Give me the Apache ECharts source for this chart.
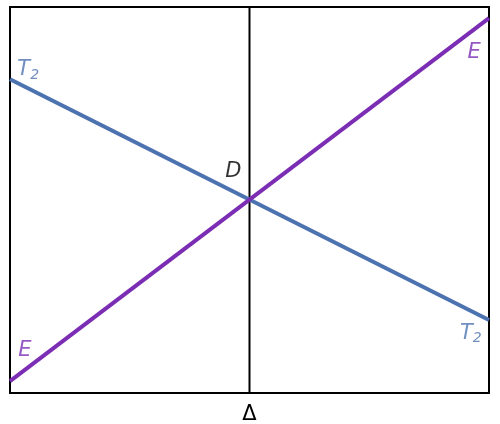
<!DOCTYPE html>
<html><head><meta charset="utf-8">
<script src="https://cdn.jsdelivr.net/npm/echarts@6/dist/echarts.min.js"></script>
<style>html,body{margin:0;padding:0;background:#fff}#c{width:500px;height:424px}</style>
</head><body><div id="c"></div>
<script>
const lineT2 = [[0, 0.813], [1, 0.189]];
const lineE = [[0, 0.031], [1, 0.971]];
const vline = [[0.5, 0], [0.5, 1]];
const labelsT2 = [[0.038, 0.837], [0.962, 0.155]];
const labelsE = [[0.031, 0.111], [0.969, 0.881]];
const labelD = [[0.466, 0.573]];
const xName = 'Δ';

const blue = '#4c72b0', purple = '#7b2db4';
const font = 'DejaVu Sans';
function txt(data, color, rich) {
  return {
    type: 'scatter', data: data, symbolSize: 0, silent: true, z: 5,
    label: {show: true, position: 'inside', formatter: rich, color: color,
      fontFamily: font, fontStyle: 'italic', fontSize: 21,
      rich: {s: {fontFamily: font, fontSize: 14, color: color, verticalAlign: 'bottom', padding: [10, 0, 0, 0]}}}
  };
}
const chart = echarts.init(document.getElementById('c'));
chart.setOption({
  animation: false,
  grid: {left: 10, right: 11, top: 7, bottom: 31, show: true, borderColor: '#000', borderWidth: 2, containLabel: false, outerBoundsMode: 'none'},
  xAxis: {type: 'value', min: 0, max: 1, axisLine: {show: false}, axisTick: {show: false}, axisLabel: {show: false}, splitLine: {show: false},
    name: xName, nameLocation: 'middle', nameGap: 11, nameTextStyle: {fontFamily: font, fontSize: 21, color: '#000'}},
  yAxis: {type: 'value', min: 0, max: 1, axisLine: {show: false}, axisTick: {show: false}, axisLabel: {show: false}, splitLine: {show: false}},
  series: [
    {type: 'line', data: vline, symbol: 'none', lineStyle: {color: '#000', width: 2}, z: 1},
    {type: 'line', data: lineT2, symbol: 'none', lineStyle: {color: blue, width: 4}, z: 2},
    {type: 'line', data: lineE, symbol: 'none', lineStyle: {color: purple, width: 4}, z: 3},
    txt(labelsT2, blue, 'T{s|2}'),
    txt(labelsE, purple, 'E'),
    txt(labelD, '#000', 'D')
  ]
});
</script></body></html>
